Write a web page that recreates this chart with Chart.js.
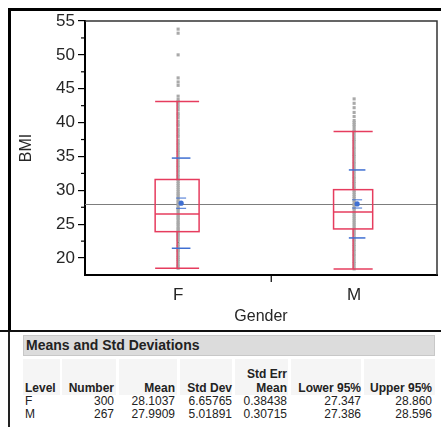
<!DOCTYPE html>
<html>
<head>
<meta charset="utf-8">
<script src="https://cdn.jsdelivr.net/npm/chart.js@4.4.0/dist/chart.umd.min.js"></script>
<style>
  html, body { margin: 0; padding: 0; background: #fff; }
  body {
    width: 441px; height: 427px; position: relative; overflow: hidden;
    font-family: "Liberation Sans", Arial, sans-serif; color: #222;
  }
  #frame {
    position: absolute; left: 8px; top: 8px; width: 433px; height: 323px;
    border-top: 3px solid #000; border-left: 3px solid #000; box-sizing: border-box;
  }
  #rule { position: absolute; left: 0; top: 330px; width: 441px; height: 2px; background: #111; }
  #leftline { position: absolute; left: 8px; top: 332px; width: 2px; height: 95px; background: #222; }
  #wrap { position: absolute; left: 0; top: 0; width: 441px; height: 331px; }
  #title {
    position: absolute; left: 23px; top: 335px; width: 412px; height: 21px;
    background: #dcdcdc; border: 1px solid #c8c8c8; box-sizing: border-box;
    font-weight: bold; font-size: 14px; line-height: 19px; padding-left: 2px; color: #222;
  }
  .hbg { position: absolute; top: 359px; height: 36px; background: #f5f5f5; }
  .t { position: absolute; font-size: 12px; line-height: 12px; white-space: nowrap; color: #222; }
  .b { font-weight: bold; }
</style>
</head>
<body>
<div id="frame"></div>
<div id="rule"></div>
<div id="leftline"></div>
<div id="wrap"><canvas id="c" width="441" height="331"></canvas></div>
<div id="title">Means and Std Deviations</div>
<div id="table"></div>

<script>
'use strict';

// ── Data ──────────────────────────────────────────────────────────────────────

const LEVELS = ['F', 'M'];
const NUMBERS = [300, 267];
const MEANS = [28.1037, 27.9909];
const STD_DEVS = [6.65765, 5.01891];
const STD_ERRS = [0.38438, 0.30715];
const LOWER95 = [27.347, 27.386];
const UPPER95 = [28.860, 28.596];

// box plot summary
const Q1 = [23.9, 24.3];
const MEDIANS = [26.5, 26.8];
const Q3 = [31.6, 30.1];
const WHISKER_LO = [18.5, 18.4];
const WHISKER_HI = [43.1, 38.7];

// observed BMI values (visible points)
const F_POINTS = [
  18.5, 18.8, 19.1, 19.5, 19.8, 20.1, 20.4, 20.8, 21.1, 21.3, 21.7, 22.0, 22.5,
  22.8, 23.1, 23.4, 23.6, 23.9, 24.2, 24.4, 24.7, 25.0, 25.2, 25.5, 25.8, 26.0,
  26.3, 26.5, 26.8, 27.1, 27.3, 27.6, 27.9, 28.2, 28.4, 28.7, 29.0, 29.3, 29.5,
  29.8, 30.1, 30.4, 30.7, 31.0, 31.3, 31.6, 32.0, 32.3, 32.7, 33.0, 33.4, 33.7,
  34.1, 34.5, 34.8, 35.2, 35.6, 35.9, 36.3, 36.7, 37.0, 37.4, 37.9, 38.2, 38.6,
  39.0, 39.5, 39.8, 40.2, 40.7, 41.1, 41.4, 41.9, 42.3, 42.7, 43.1, 43.4, 43.9,
  45.5, 46.0, 46.6, 50.0, 53.2, 53.8,
];
const F_SELECTED = [22.2];
const M_POINTS = [
  18.4, 18.8, 19.2, 19.5, 19.9, 20.3, 20.6, 21.0, 21.3, 21.7, 22.0, 22.4, 22.7,
  23.0, 23.4, 23.7, 24.0, 24.3, 24.6, 24.9, 25.2, 25.5, 25.8, 26.1, 26.4, 26.7,
  27.0, 27.3, 27.6, 27.9, 28.2, 28.5, 28.8, 29.1, 29.4, 29.7, 30.0, 30.3, 30.6,
  31.0, 31.3, 31.7, 32.0, 32.4, 32.8, 33.1, 33.5, 33.9, 34.2, 34.6, 35.0, 35.3,
  35.7, 36.1, 36.4, 36.8, 37.2, 37.5, 37.9, 38.3, 38.7, 39.0, 39.4, 39.7, 40.0,
  40.3, 40.9, 41.5, 42.2, 42.85, 43.5,
];

const Y_TICKS = [20, 25, 30, 35, 40, 45, 50, 55];
const Y_MINOR = [22.5, 27.5, 32.5, 37.5, 42.5, 47.5, 52.5];

// ── Derived ───────────────────────────────────────────────────────────────────

const TOTAL = NUMBERS.reduce((s, n) => s + n, 0);
const SLOT_START = NUMBERS.map((_, i) => NUMBERS.slice(0, i).reduce((s, n) => s + n, 0));
const CENTERS = NUMBERS.map((n, i) => SLOT_START[i] + n / 2);
const GRAND_MEAN = MEANS.reduce((s, m, i) => s + m * NUMBERS[i], 0) / TOTAL;

const RED = '#e63c5e';
const BLUE = '#3f6fd2';
const TEXT = '#262626';

// ── Box plot drawing ──────────────────────────────────────────────────────────

function hline(ctx, x0, x1, yy) {
  ctx.beginPath(); ctx.moveTo(x0, yy); ctx.lineTo(x1, yy); ctx.stroke();
}
function vline(ctx, xx, y0, y1) {
  ctx.beginPath(); ctx.moveTo(xx, y0); ctx.lineTo(xx, y1); ctx.stroke();
}

const boxPlugin = {
  id: 'boxes',
  beforeDatasetsDraw(chart) {
    const { ctx, chartArea: a, scales: { x, y } } = chart;
    ctx.save();
    // grand mean reference line
    ctx.strokeStyle = '#7d7d7d';
    ctx.lineWidth = 1;
    hline(ctx, a.left, a.right, Math.round(y.getPixelForValue(GRAND_MEAN)) + 0.5);
    // minor y ticks
    ctx.strokeStyle = '#000';
    ctx.lineWidth = 1.2;
    Y_MINOR.forEach(v => hline(ctx, a.left - 4, a.left, y.getPixelForValue(v)));
    // separator tick between levels
    SLOT_START.slice(1).forEach(v => vline(ctx, x.getPixelForValue(v), a.bottom, a.bottom + 7));
    ctx.restore();
  },
  afterDatasetsDraw(chart) {
    const { ctx, scales: { x, y } } = chart;
    ctx.save();
    LEVELS.forEach((_, i) => {
      const cx = x.getPixelForValue(CENTERS[i]) - 1;
      const slot = x.getPixelForValue(NUMBERS[i]) - x.getPixelForValue(0);
      const hw = slot * 0.118;
      const yq1 = y.getPixelForValue(Q1[i]);
      const yq3 = y.getPixelForValue(Q3[i]);
      ctx.strokeStyle = RED;
      ctx.lineWidth = 1.5;
      ctx.strokeRect(cx - hw, yq3, hw * 2, yq1 - yq3);
      hline(ctx, cx - hw, cx + hw, y.getPixelForValue(MEDIANS[i]));
      ctx.lineWidth = 1.3;
      vline(ctx, cx, yq3, y.getPixelForValue(WHISKER_HI[i]));
      vline(ctx, cx, yq1, y.getPixelForValue(WHISKER_LO[i]));
      ctx.lineWidth = 1.5;
      hline(ctx, cx - hw, cx + hw, y.getPixelForValue(WHISKER_HI[i]));
      hline(ctx, cx - hw, cx + hw, y.getPixelForValue(WHISKER_LO[i]));

      // mean, std dev and CI marks
      const mx = cx + 4;
      const sw = slot * 0.05;
      ctx.strokeStyle = BLUE;
      ctx.lineWidth = 1.5;
      hline(ctx, mx - sw, mx + sw, y.getPixelForValue(MEANS[i] + STD_DEVS[i]));
      hline(ctx, mx - sw, mx + sw, y.getPixelForValue(MEANS[i] - STD_DEVS[i]));
      ctx.lineWidth = 1;
      hline(ctx, mx - 5, mx + 5, y.getPixelForValue(LOWER95[i]));
      hline(ctx, mx - 5, mx + 5, y.getPixelForValue(UPPER95[i]));
      ctx.fillStyle = BLUE;
      ctx.beginPath();
      ctx.arc(mx, y.getPixelForValue(MEANS[i]), 2.6, 0, Math.PI * 2);
      ctx.fill();
    });
    ctx.restore();
  },
  afterDraw(chart) {
    const { ctx, chartArea: a } = chart;
    ctx.save();
    ctx.strokeStyle = '#333';
    ctx.lineWidth = 1.5;
    ctx.beginPath();
    ctx.moveTo(a.left, a.top); ctx.lineTo(a.right, a.top); ctx.lineTo(a.right, a.bottom);
    ctx.stroke();
    ctx.restore();
  },
};

// ── Chart ─────────────────────────────────────────────────────────────────────

function pointsAt(center, values) {
  return values.map(v => ({ x: center, y: v }));
}

new Chart(document.getElementById('c'), {
  type: 'scatter',
  data: {
    datasets: [
      { data: pointsAt(CENTERS[0], F_POINTS), pointStyle: 'rect', pointRadius: 2.2,
        backgroundColor: '#a9a9a9', borderWidth: 0 },
      { data: pointsAt(CENTERS[1], M_POINTS), pointStyle: 'rect', pointRadius: 2.2,
        backgroundColor: '#a9a9a9', borderWidth: 0 },
      { data: pointsAt(CENTERS[0], F_SELECTED), pointStyle: 'rect', pointRadius: 1.4,
        backgroundColor: '#000', borderWidth: 0 },
    ],
  },
  options: {
    responsive: false,
    animation: false,
    layout: { padding: { left: 15, top: 21, right: 4, bottom: 0 } },
    plugins: { legend: { display: false }, tooltip: { enabled: false } },
    scales: {
      x: {
        type: 'linear',
        min: 0,
        max: TOTAL,
        afterBuildTicks: s => { s.ticks = CENTERS.map(v => ({ value: v })); },
        afterFit: s => { s.height = 56; },
        ticks: {
          autoSkip: false, maxRotation: 0, padding: 2, color: TEXT,
          font: { size: 17, family: 'Liberation Sans' },
          callback: (v, i) => LEVELS[i],
        },
        grid: { display: false },
        border: { display: true, color: '#000', width: 2 },
        title: {
          display: true, text: 'Gender', color: TEXT,
          font: { size: 16, family: 'Liberation Sans' }, padding: { top: 0, bottom: 5 },
        },
      },
      y: {
        min: 17.5,
        max: 55,
        afterBuildTicks: s => { s.ticks = Y_TICKS.map(v => ({ value: v })); },
        afterFit: s => { s.width = 70; },
        ticks: { padding: 3, color: TEXT, font: { size: 17, family: 'Liberation Sans' } },
        grid: { drawOnChartArea: false, drawTicks: true, tickLength: 7, color: '#000', lineWidth: 1.2 },
        border: { display: true, color: '#000', width: 2 },
        title: {
          display: true, text: 'BMI', color: TEXT,
          font: { size: 16, family: 'Liberation Sans' }, padding: { top: 2, bottom: 0 },
        },
      },
    },
  },
  plugins: [boxPlugin],
});

// ── Summary table ─────────────────────────────────────────────────────────────

const table = document.getElementById('table');
const HEADER_BG = [[23, 60], [62, 116], [119, 177], [180, 232], [235, 288], [291, 361], [364, 435]];
HEADER_BG.forEach(([l, r]) => {
  const d = document.createElement('div');
  d.className = 'hbg';
  d.style.left = l + 'px';
  d.style.width = (r - l) + 'px';
  table.appendChild(d);
});

function put(text, xPos, yCenter, opts = {}) {
  const d = document.createElement('div');
  d.className = 't' + (opts.bold ? ' b' : '');
  d.textContent = text;
  d.style.top = (yCenter - 6) + 'px';
  if (opts.left) d.style.left = xPos + 'px';
  else d.style.right = (441 - xPos) + 'px';
  table.appendChild(d);
}

const COL_RIGHT = [114, 175, 232, 287, 361, 432];
put('Std Err', COL_RIGHT[3], 374, { bold: true });
put('Level', 25, 388, { bold: true, left: true });
['Number', 'Mean', 'Std Dev', 'Mean', 'Lower 95%', 'Upper 95%']
  .forEach((h, j) => put(h, COL_RIGHT[j], 388, { bold: true }));

LEVELS.forEach((lvl, i) => {
  const yc = 401 + i * 12.5;
  put(lvl, 25, yc, { left: true });
  const cells = [
    String(NUMBERS[i]), MEANS[i].toFixed(4), STD_DEVS[i].toFixed(5),
    STD_ERRS[i].toFixed(5), LOWER95[i].toFixed(3), UPPER95[i].toFixed(3),
  ];
  cells.forEach((c, j) => put(c, COL_RIGHT[j], yc));
});
</script>
</body>
</html>
